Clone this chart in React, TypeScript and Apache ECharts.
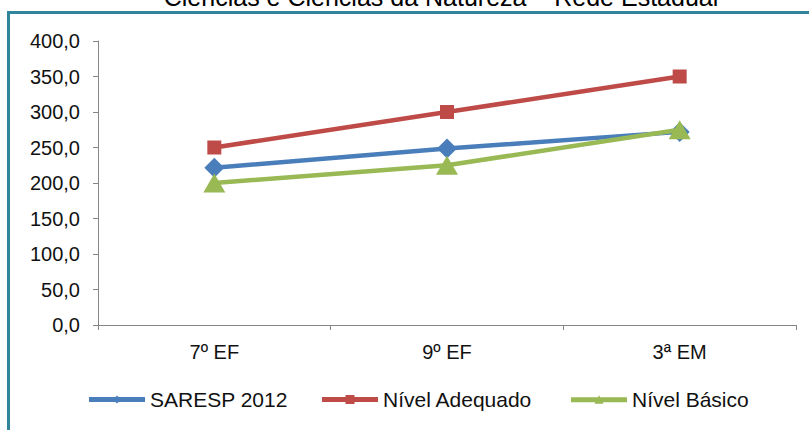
import React, { useEffect, useRef } from "react";
import * as echarts from "echarts";

const categories = ["7º EF", "9º EF", "3ª EM"];
const saresp2012 = [221.5, 248.5, 272];
const nivelAdequado = [250, 300, 350];
const nivelBasico = [200, 225, 275];
const yTicks = { min: 0, max: 400, interval: 50 };
const titleText = "Ciências e Ciências da Natureza – Rede Estadual";

const FONT = "'Liberation Sans', Arial, sans-serif";

// legend icons drawn in a 56x12 box: thick line plus a small marker
const iconDiamond = "path://M0,3.5L56,3.5L56,8.5L0,8.5Z M28,2L32,6L28,10L24,6Z";
const iconSquare = "path://M0,3.5L56,3.5L56,8.5L0,8.5Z M23.5,1.5L32.5,1.5L32.5,10.5L23.5,10.5Z";
const iconTriangle = "path://M0,3.5L56,3.5L56,8.5L0,8.5Z M28,1.5L32.5,10L23.5,10Z";

export default function App() {
  const ref = useRef<HTMLDivElement>(null);
  useEffect(() => {
    if (!ref.current) return;
    const chart = echarts.init(ref.current, null, { renderer: "svg" });
    const legendText = { fontFamily: FONT, fontSize: 21, color: "#111" };
    const mkLegend = (name: string, left: number, icon: string) => ({
      data: [{ name, icon }],
      left,
      top: 384,
      itemWidth: 56,
      itemHeight: 12,
      itemGap: 5,
      textStyle: legendText,
      selectedMode: false,
    });
    chart.setOption({
      animation: false,
      backgroundColor: "#fff",
      graphic: [
        {
          type: "rect",
          shape: { x: 8.5, y: 12.5, width: 900, height: 600 },
          style: { fill: "none", stroke: "#31849B", lineWidth: 3 },
          silent: true,
          z: 0,
        },
        {
          type: "text",
          x: 441,
          y: -3,
          style: {
            text: titleText,
            fontFamily: FONT,
            fontSize: 25,
            fill: "#000",
            textAlign: "center",
            textVerticalAlign: "middle",
          },
        },
      ],
      legend: [
        mkLegend("SARESP 2012", 84, iconDiamond),
        mkLegend("Nível Adequado", 317, iconSquare),
        mkLegend("Nível Básico", 566, iconTriangle),
      ],
      grid: { left: 98, right: 13, top: 41, bottom: 105, containLabel: false },
      xAxis: {
        type: "category",
        data: categories,
        boundaryGap: true,
        axisLine: { lineStyle: { color: "#868686", width: 1 } },
        axisTick: { show: true, length: 5, interval: 0, lineStyle: { color: "#868686" } },
        axisLabel: { fontFamily: FONT, fontSize: 20, color: "#111", margin: 17 },
        splitLine: { show: false },
      },
      yAxis: {
        type: "value",
        min: yTicks.min,
        max: yTicks.max,
        interval: yTicks.interval,
        axisLine: { show: true, lineStyle: { color: "#868686", width: 1 } },
        axisTick: { show: true, length: 5, lineStyle: { color: "#868686" } },
        axisLabel: {
          fontFamily: FONT,
          fontSize: 20,
          color: "#111",
          margin: 18,
          formatter: (v: number) => v.toFixed(1).replace(".", ","),
        },
        splitLine: { show: false },
      },
      series: [
        {
          name: "SARESP 2012",
          type: "line",
          data: saresp2012,
          symbol: "diamond",
          symbolSize: 20,
          lineStyle: { color: "#4A7EBB", width: 4.5 },
          itemStyle: { color: "#4A7EBB" },
          z: 3,
        },
        {
          name: "Nível Adequado",
          type: "line",
          data: nivelAdequado,
          symbol: "rect",
          symbolSize: 14,
          lineStyle: { color: "#BE4B48", width: 4.5 },
          itemStyle: { color: "#BE4B48" },
          z: 2,
        },
        {
          name: "Nível Básico",
          type: "line",
          data: nivelBasico,
          symbol: "triangle",
          symbolSize: [22, 19],
          lineStyle: { color: "#98B954", width: 4.5 },
          itemStyle: { color: "#98B954" },
          z: 4,
        },
      ],
    });
    return () => chart.dispose();
  }, []);
  return <div ref={ref} style={{ width: 809, height: 430, position: "absolute", left: 0, top: 0 }} />;
}
